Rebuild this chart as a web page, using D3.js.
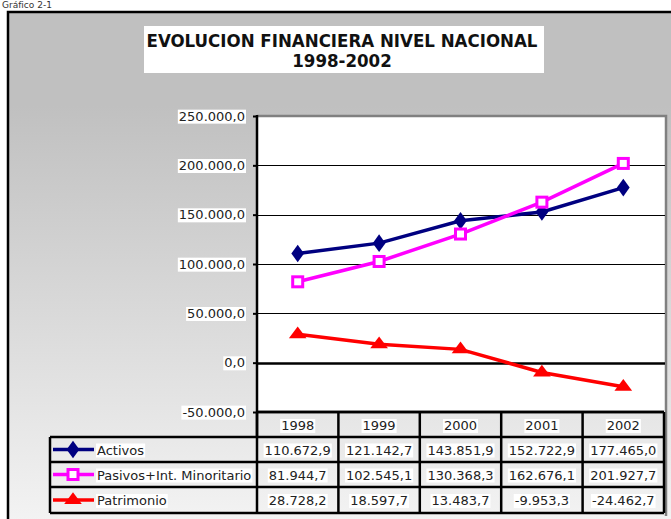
<!DOCTYPE html>
<html lang="es">
<head>
<meta charset="UTF-8">
<title>Evolucion financiera nivel nacional 1998-2002</title>
<script src="https://d3js.org/d3.v7.min.js"></script>
<style>
  body { margin: 0; background: #fff; font-family: 'DejaVu Sans', sans-serif; }
  svg text { font-family: 'DejaVu Sans', sans-serif; }
</style>
</head>
<body>
<div id="chart"></div>
<script>
// data
const years = ["1998", "1999", "2000", "2001", "2002"];
const activos = [110672.9, 121142.7, 143851.9, 152722.9, 177465.0];
const pasivos = [81944.7, 102545.1, 130368.3, 162676.1, 201927.7];
const patrimonio = [28728.2, 18597.7, 13483.7, -9953.3, -24462.7];
const seriesNames = ["Activos", "Pasivos+Int.  Minoritario", "Patrimonio"];
const yTicks = [-50000, 0, 50000, 100000, 150000, 200000, 250000];

const series = [
  { name: seriesNames[0], values: activos, color: "#000080", marker: "diamond" },
  { name: seriesNames[1], values: pasivos, color: "#ff00ff", marker: "square" },
  { name: seriesNames[2], values: patrimonio, color: "#ff0000", marker: "triangle" }
];

const W = 671, H = 519;
const plot = { left: 257, right: 664, top: 116, bottom: 412 };
const rows = [412, 437, 462, 487, 513];   // table row edges
const legendLeft = 50;

// es-style number format: 110.672,9
const fmt = d3.formatLocale({ decimal: ",", thousands: ".", grouping: [3], currency: ["", ""], minus: "-" }).format(",.1f");

const svg = d3.select("#chart").append("svg")
  .attr("width", W).attr("height", H);

const defs = svg.append("defs");
const grad = defs.append("linearGradient").attr("id", "bg")
  .attr("x1", 0).attr("y1", 0).attr("x2", 0).attr("y2", 1);
grad.append("stop").attr("offset", "0.18").attr("stop-color", "#c0c0c0");
grad.append("stop").attr("offset", "1").attr("stop-color", "#f4f4f4");

// caption above the frame
svg.append("text").attr("x", 2).attr("y", 8)
  .attr("font-size", 9).attr("fill", "#333").text("Gráfico 2-1");

// chart area
svg.append("rect").attr("x", 8).attr("y", 12).attr("width", W).attr("height", H)
  .attr("fill", "url(#bg)");
svg.append("path").attr("d", `M8,${H} V12 H${W}`)
  .attr("fill", "none").attr("stroke", "#000").attr("stroke-width", 2.5);

// title box
svg.append("rect").attr("x", 144).attr("y", 26).attr("width", 400).attr("height", 47).attr("fill", "#fff");
const title = svg.append("text").attr("text-anchor", "middle")
  .attr("font-weight", "bold").attr("font-size", 18.5).attr("fill", "#111")
  .style("font-family", "'DejaVu Sans Condensed', 'DejaVu Sans', sans-serif")
  .style("font-stretch", "condensed");
title.append("tspan").attr("x", 342).attr("y", 47).text("EVOLUCION FINANCIERA NIVEL NACIONAL");
title.append("tspan").attr("x", 342).attr("y", 67).text("1998-2002");

const x = d3.scaleBand().domain(years).range([plot.left, plot.right]);
const y = d3.scaleLinear().domain([-50000, 250000]).range([plot.bottom, plot.top]);
const cx = d => x(d) + x.bandwidth() / 2;

// plot area
svg.append("rect").attr("x", plot.left).attr("y", plot.top)
  .attr("width", plot.right - plot.left + 2).attr("height", plot.bottom - plot.top).attr("fill", "#fff");
svg.append("path").attr("d", `M${plot.left},${plot.top} H${plot.right + 2} V${rows[4] + 3}`)
  .attr("fill", "none").attr("stroke", "#808080").attr("stroke-width", 2.5);

// gridlines
svg.append("g").selectAll("line").data(yTicks.filter(t => t > -50000 && t < 250000)).join("line")
  .attr("x1", plot.left).attr("x2", plot.right + 1)
  .attr("y1", d => Math.round(y(d)) + 0.5).attr("y2", d => Math.round(y(d)) + 0.5)
  .attr("stroke", "#000").attr("stroke-width", d => d === 0 ? 2.5 : 1.2);

// y axis
const yAxis = svg.append("g").attr("transform", `translate(${plot.left},0)`)
  .call(d3.axisLeft(y).tickValues(yTicks).tickSize(4).tickPadding(8).tickFormat(fmt));
yAxis.select(".domain").remove();
yAxis.selectAll(".tick line").attr("stroke", "#000").attr("stroke-width", 2);
yAxis.selectAll(".tick text").attr("font-size", 13).attr("fill", "#222");
yAxis.selectAll(".tick").each(function () {
  const g = d3.select(this), t = g.select("text"), b = t.node().getBBox();
  g.insert("rect", "text").attr("x", b.x - 1).attr("y", b.y + 1).attr("width", b.width + 2).attr("height", b.height - 1)
    .attr("fill", "#fff");
});
svg.append("line").attr("x1", plot.left).attr("x2", plot.left)
  .attr("y1", plot.top - 1).attr("y2", rows[1])
  .attr("stroke", "#000").attr("stroke-width", 2.5);
svg.append("line").attr("x1", plot.left).attr("x2", plot.right)
  .attr("y1", plot.bottom).attr("y2", plot.bottom)
  .attr("stroke", "#000").attr("stroke-width", 2.5);

// lines and markers
const line = d3.line().x((d, i) => cx(years[i])).y(d => y(d));
series.forEach(s => {
  svg.append("path").datum(s.values).attr("d", line)
    .attr("fill", "none").attr("stroke", s.color).attr("stroke-width", 3.5);
  s.values.forEach((v, i) => drawMarker(svg, s, cx(years[i]), y(v)));
});

function drawMarker(g, s, px, py) {
  if (s.marker === "diamond") {
    g.append("path").attr("d", d3.symbol(d3.symbolDiamond, 90)())
      .attr("transform", `translate(${px},${py}) scale(1.25,1)`).attr("fill", s.color);
  } else if (s.marker === "square") {
    g.append("rect").attr("x", px - 5).attr("y", py - 5).attr("width", 10).attr("height", 10)
      .attr("fill", "#fff").attr("stroke", s.color).attr("stroke-width", 3);
  } else {
    g.append("path").attr("d", d3.symbol(d3.symbolTriangle, 80)())
      .attr("transform", `translate(${px},${py}) scale(1.3,1)`).attr("fill", s.color);
  }
}

// data table
const tbl = svg.append("g");

function cellText(g, tx, ty, str, anchor) {
  const t = g.append("text").attr("x", tx).attr("y", ty).attr("text-anchor", anchor)
    .attr("font-size", 13).attr("fill", "#222").text(str);
  const b = t.node().getBBox();
  g.insert("rect", "text").attr("x", b.x - 1).attr("y", b.y + 1).attr("width", b.width + 2).attr("height", b.height - 1)
    .attr("fill", "#fff");
  return t;
}

// header row
years.forEach(yr => {
  cellText(tbl.append("g"), cx(yr), rows[0] + 18, yr, "middle");
});
// series rows
series.forEach((s, r) => {
  const top = rows[r + 1], bot = rows[r + 2], mid = (top + bot) / 2;
  const lg = tbl.append("g");
  lg.append("line").attr("x1", 53).attr("x2", 94).attr("y1", mid).attr("y2", mid)
    .attr("stroke", s.color).attr("stroke-width", 3.5);
  drawMarker(lg, s, 73, mid);
  cellText(lg, 97, mid + 5, s.name, "start");
  s.values.forEach((v, i) => {
    cellText(tbl.append("g"), cx(years[i]), mid + 5, fmt(v), "middle");
  });
});

// table grid
const grid = tbl.append("g").attr("stroke", "#000").attr("stroke-width", 2.5).attr("fill", "none");
years.concat([null]).forEach(yr => {
  const gx = yr ? x(yr) : plot.right;
  grid.append("line").attr("x1", gx).attr("x2", gx).attr("y1", rows[0]).attr("y2", rows[4]);
});
rows.forEach((ry, i) => {
  grid.append("line").attr("x1", i === 0 ? plot.left : legendLeft).attr("x2", plot.right)
    .attr("y1", ry).attr("y2", ry);
});
grid.append("line").attr("x1", legendLeft).attr("x2", legendLeft).attr("y1", rows[1]).attr("y2", rows[4]);
</script>
</body>
</html>
